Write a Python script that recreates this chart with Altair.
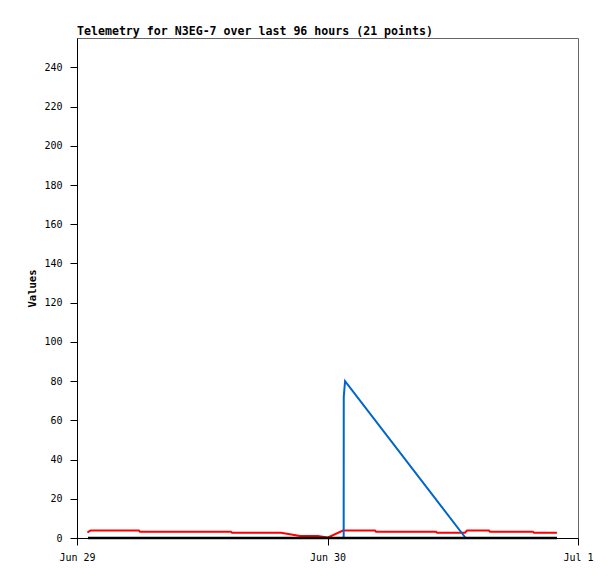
import altair as alt
import pandas as pd

TITLE = "Telemetry for N3EG-7 over last 96 hours (21 points)"

# red series
red_times = [
    "2024-06-29T01:00:00Z", "2024-06-29T01:17:00Z", "2024-06-29T05:56:00Z", "2024-06-29T06:02:00Z",
    "2024-06-29T14:45:00Z", "2024-06-29T14:51:00Z", "2024-06-29T19:33:00Z", "2024-06-29T21:22:00Z",
    "2024-06-29T23:05:00Z", "2024-06-30T00:00:00Z", "2024-06-30T01:29:00Z", "2024-06-30T04:33:00Z",
    "2024-06-30T04:39:00Z", "2024-06-30T10:24:00Z", "2024-06-30T10:30:00Z", "2024-06-30T13:10:00Z",
    "2024-06-30T13:22:00Z", "2024-06-30T15:28:00Z", "2024-06-30T15:34:00Z", "2024-06-30T19:41:00Z",
    "2024-06-30T19:47:00Z", "2024-06-30T21:59:00Z",
]
red_values = [2.8, 3.8, 3.8, 3.2, 3.2, 2.7, 2.7, 1.0, 1.0, 0.2, 3.8, 3.8,
              3.2, 3.2, 2.7, 2.7, 3.8, 3.8, 3.2, 3.2, 2.7, 2.7]

# blue series
blue_times = ["2024-06-30T01:33:00Z", "2024-06-30T01:33:30Z", "2024-06-30T01:41:00Z", "2024-06-30T13:14:00Z"]
blue_values = [0, 72, 80, 0]

# black series
black_times = ["2024-06-29T01:03:00Z", "2024-06-30T21:59:00Z"]
black_values = [0, 0]

x_ticks = ["2024-06-29", "2024-06-30", "2024-07-01"]
y_ticks = [0, 20, 40, 60, 80, 100, 120, 140, 160, 180, 200, 220, 240]
y_max = 255

FONT = "DejaVu Sans Mono"


def ms(s):
    return int(pd.Timestamp(s, tz="UTC").value // 10**6)


def frame(times, values):
    return pd.DataFrame({"time": times, "value": values, "idx": list(range(len(times)))})


x_enc = alt.X(
    "time:T",
    scale=alt.Scale(type="utc", domain=[ms(x_ticks[0]), ms(x_ticks[-1])]),
    axis=alt.Axis(
        values=[ms(t) for t in x_ticks],
        labelExpr="utcFormat(datum.value, '%b %-d')",
        labelAlign="center",
        labelFlush=False,
        tickSize=7,
        labelPadding=7,
        title=None,
    ),
)
y_enc = alt.Y(
    "value:Q",
    scale=alt.Scale(domain=[0, y_max], nice=False),
    axis=alt.Axis(
        values=y_ticks,
        tickSize=7,
        labelPadding=8,
        title="Values",
        titleFont=FONT,
        titleFontSize=10.5,
        titleFontWeight="bold",
        titleAngle=270,
        titleX=-42,
        titleBaseline="alphabetic",
    ),
)


def layer(df, color, width):
    return alt.Chart(df).mark_line(color=color, strokeWidth=width, interpolate="linear").encode(
        x=x_enc, y=y_enc, order="idx:Q"
    )


chart = alt.layer(
    layer(frame(red_times, red_values), "#ff0000", 2),
    layer(frame(blue_times, blue_values), "#0066cc", 2),
    layer(frame(black_times, black_values), "#000000", 2.5),
).properties(
    width=501,
    height=500,
    title=alt.TitleParams(
        TITLE, anchor="start", frame="group", font=FONT, fontSize=11.6, fontWeight="bold",
        color="black", offset=0
    ),
    autosize=alt.AutoSizeParams(type="none"),
    padding={"left": 69, "top": 30, "right": 29, "bottom": 30},
).configure_view(
    stroke="#666666", strokeWidth=1
).configure_axis(
    labelFont=FONT, labelFontSize=10, labelColor="black", tickColor="black",
    domainColor="black", grid=False,
)

chart.save("out.html", embed_options={"renderer": "svg", "actions": False})
